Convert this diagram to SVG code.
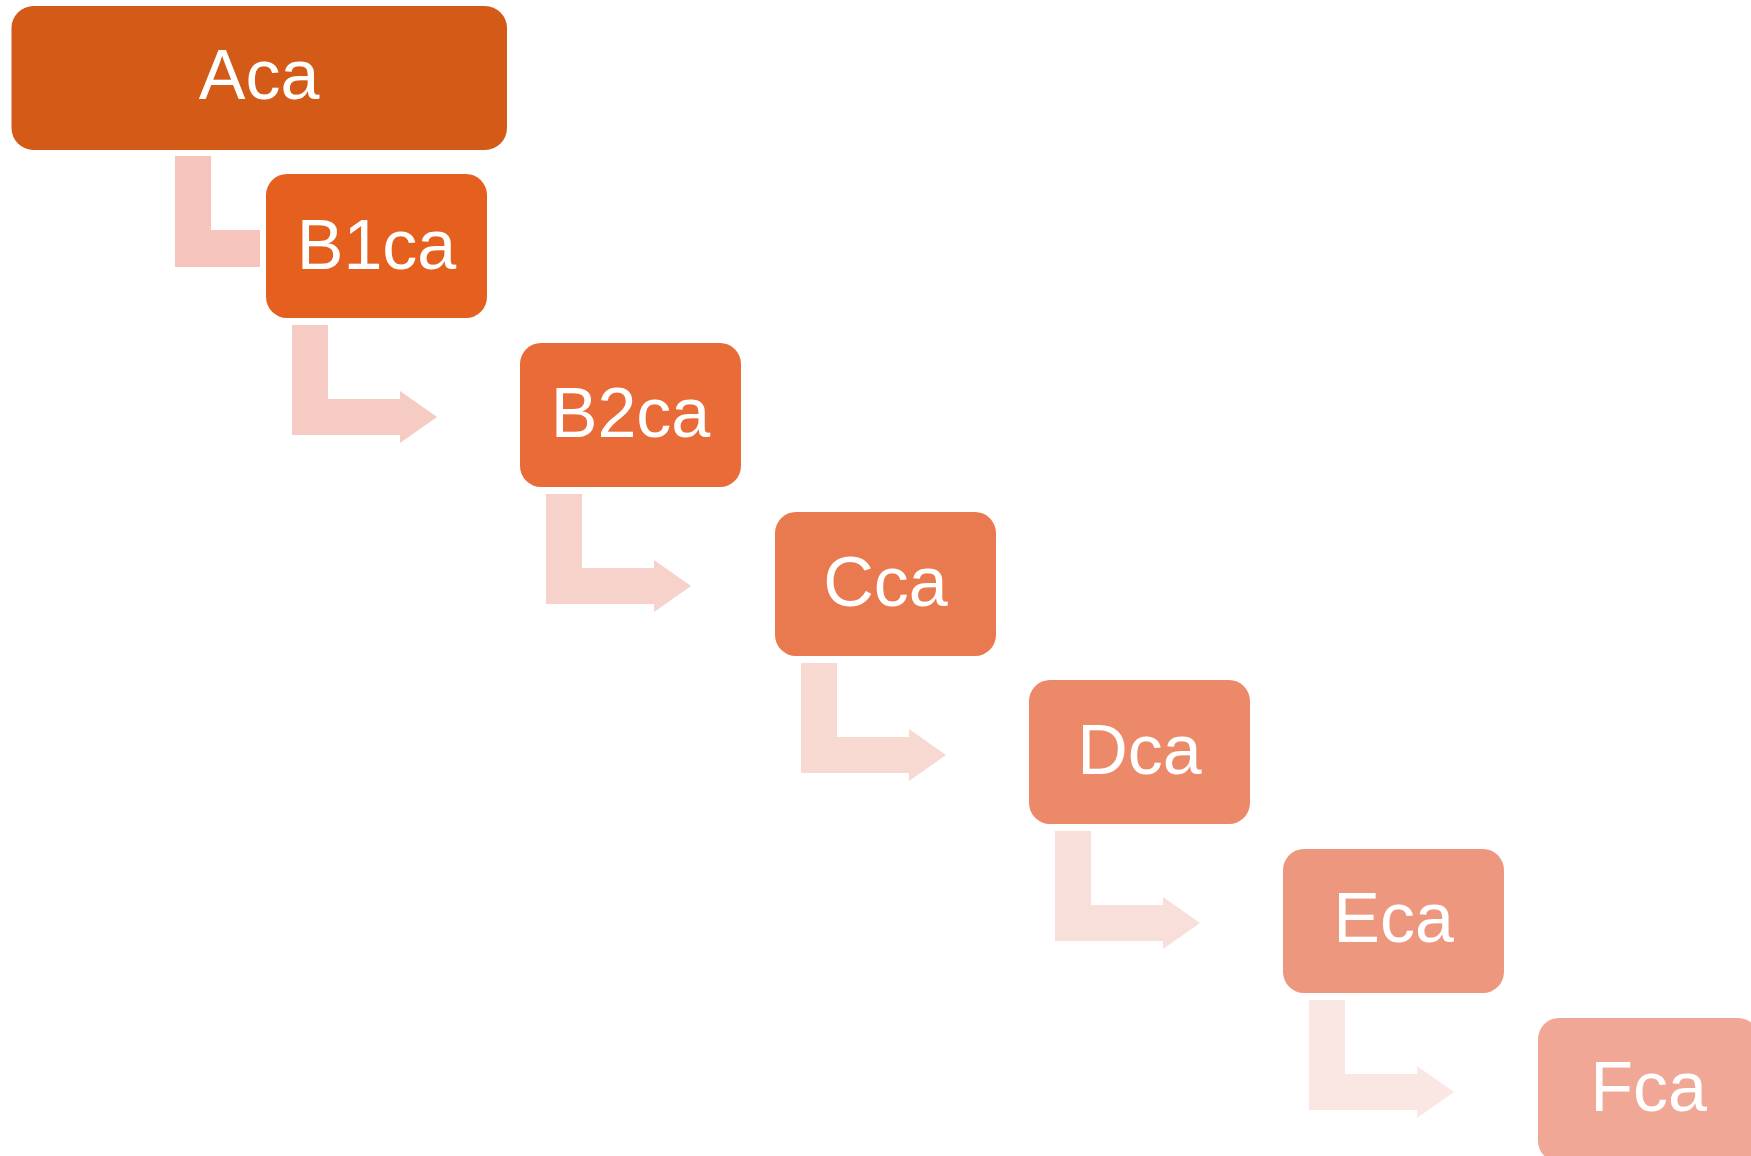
<svg xmlns="http://www.w3.org/2000/svg" width="1751" height="1156" viewBox="0 0 1751 1156">
<style>
text{font-family:'Liberation Sans',Arial,Helvetica,sans-serif;font-size:70px;fill:#FFFFFF;text-anchor:middle}
</style>
<rect width="1751" height="1156" fill="#FFFFFF"/>
<g id="connectors">
<polygon points="175,156 211,156 211,230 260,230 260,267 175,267" fill="#F5C4BC"/>
<polygon points="292,325 328,325 328,399 400,399 400,391 437,417 400,443 400,435 292,435" fill="#F6CBC3"/>
<polygon points="546,494 582,494 582,568 654,568 654,560 691,586 654,612 654,604 546,604" fill="#F7D2CA"/>
<polygon points="801,663 837,663 837,737 909,737 909,729 946,755 909,781 909,773 801,773" fill="#F8D9D2"/>
<polygon points="1055,831 1091,831 1091,905 1163,905 1163,897 1200,923 1163,949 1163,941 1055,941" fill="#F9DFDA"/>
<polygon points="1309,1000 1345,1000 1345,1074 1417,1074 1417,1066 1454,1092 1417,1118 1417,1110 1309,1110" fill="#FAE6E2"/>
</g>
<g id="A">
<rect x="11.5" y="6" width="495.5" height="144" rx="22" fill="#D45A17"/>
<text x="259" y="99">Aca</text>
</g>
<g id="B1">
<rect x="266" y="174" width="221" height="144" rx="21" fill="#E5601F"/>
<text x="376.5" y="269">B1ca</text>
</g>
<g id="B2">
<rect x="520" y="343" width="221" height="144" rx="21" fill="#E86B38"/>
<text x="630.5" y="437">B2ca</text>
</g>
<g id="C">
<rect x="775" y="512" width="221" height="144" rx="21" fill="#E97A50"/>
<text x="885.5" y="606">Cca</text>
</g>
<g id="D">
<rect x="1029" y="680" width="221" height="144" rx="21" fill="#EB8968"/>
<text x="1139.5" y="774">Dca</text>
</g>
<g id="E">
<rect x="1283" y="849" width="221" height="144" rx="21" fill="#EE977F"/>
<text x="1393.5" y="942">Eca</text>
</g>
<g id="F">
<rect x="1538" y="1018" width="221" height="144" rx="21" fill="#F0A796"/>
<text x="1648.5" y="1111">Fca</text>
</g>
</svg>
